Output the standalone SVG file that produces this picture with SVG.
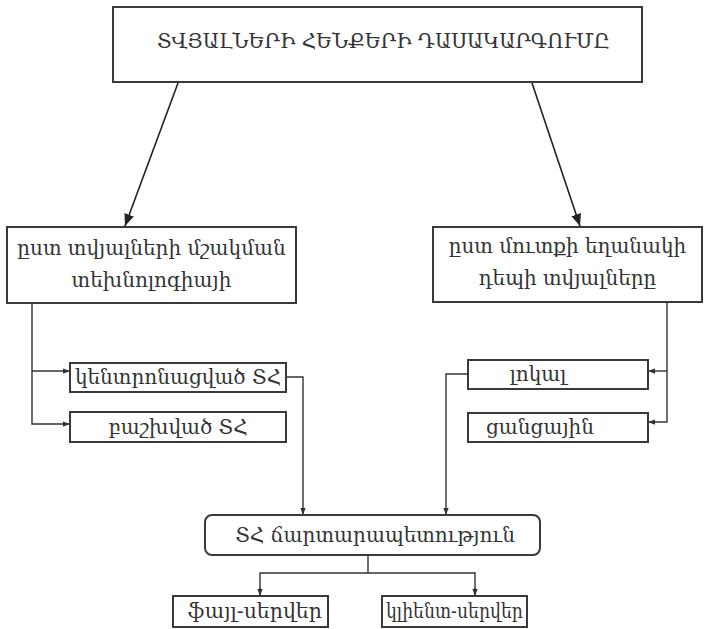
<svg xmlns="http://www.w3.org/2000/svg" width="705" height="629" viewBox="0 0 705 629">
<style>
.box{fill:#fff;stroke:#3a3a3a;stroke-width:2}
.t{font-family:"DejaVu Serif","Noto Sans",serif;fill:#333;text-anchor:middle}
.c{fill:none;stroke:#333;stroke-width:1.4}
.cb{fill:none;stroke:#222;stroke-width:1.6}
</style>
<defs>
<marker id="big" viewBox="0 0 12 12" refX="12" refY="6" markerWidth="12" markerHeight="12" markerUnits="userSpaceOnUse" orient="auto"><path d="M0,1 L12,6 L0,11 z" fill="#222"/></marker>
<marker id="sm" viewBox="0 0 8 8" refX="8" refY="4" markerWidth="7" markerHeight="7" markerUnits="userSpaceOnUse" orient="auto"><path d="M0,1 L8,4 L0,7 z" fill="#333"/></marker>
</defs>
<rect width="705" height="629" fill="#fff"/>
<g id="connectors">
<line class="cb" x1="178" y1="83" x2="125" y2="226" marker-end="url(#big)"/>
<line class="cb" x1="532" y1="83" x2="580" y2="226" marker-end="url(#big)"/>
<polyline class="c" points="32,303 32,424 70,424" marker-end="url(#sm)"/>
<line class="c" x1="32" y1="371" x2="70" y2="371" marker-end="url(#sm)"/>
<polyline class="c" points="667,302 667,422 648,422" marker-end="url(#sm)"/>
<line class="c" x1="667" y1="371" x2="648" y2="371" marker-end="url(#sm)"/>
<polyline class="c" points="286,377 303,377 303,515" marker-end="url(#sm)"/>
<polyline class="c" points="468,374 446,374 446,515" marker-end="url(#sm)"/>
<line class="c" x1="368" y1="555" x2="368" y2="573"/>
<polyline class="c" points="260,596 260,573 475,573 475,596"/>
<line class="c" x1="260" y1="588" x2="260" y2="596" marker-end="url(#sm)"/>
<line class="c" x1="475" y1="588" x2="475" y2="596" marker-end="url(#sm)"/>
</g>
<g id="title">
<rect class="box" x="113" y="7" width="529" height="75"/>
<text class="t" x="383.5" y="48" font-size="20.5" textLength="453" lengthAdjust="spacingAndGlyphs">ՏՎՅԱԼՆԵՐԻ ՀԵՆՔԵՐԻ ԴԱՍԱԿԱՐԳՈՒՄԸ</text>
</g>
<g id="processing">
<rect class="box" x="7" y="227" width="289" height="76"/>
<text class="t" x="151.5" y="255" font-size="20">ըստ տվյալների մշակման</text>
<text class="t" x="151.5" y="287" font-size="20">տեխնոլոգիայի</text>
</g>
<g id="access">
<rect class="box" x="433" y="227" width="269" height="75"/>
<text class="t" x="567.5" y="253" font-size="20">ըստ մուտքի եղանակի</text>
<text class="t" x="567.5" y="285" font-size="20">դեպի տվյալները</text>
</g>
<g id="centralized">
<rect class="box" x="70" y="363" width="216" height="29"/>
<text class="t" x="178" y="384" font-size="20">կենտրոնացված ՏՀ</text>
</g>
<g id="distributed">
<rect class="box" x="70" y="412" width="216" height="30"/>
<text class="t" x="178" y="434" font-size="20">բաշխված ՏՀ</text>
</g>
<g id="local">
<rect class="box" x="468" y="360" width="180" height="29"/>
<text class="t" x="538" y="381" font-size="20">լոկալ</text>
</g>
<g id="network">
<rect class="box" x="468" y="413" width="180" height="29"/>
<text class="t" x="540" y="434" font-size="20">ցանցային</text>
</g>
<g id="architecture">
<rect class="box" x="205" y="515" width="335" height="40" rx="7"/>
<text class="t" x="375" y="542" font-size="20">ՏՀ ճարտարապետություն</text>
</g>
<g id="fileserver">
<rect class="box" x="173" y="596" width="155" height="31"/>
<text class="t" x="255" y="618" font-size="20.5">ֆայլ-սերվեր</text>
</g>
<g id="clientserver">
<rect class="box" x="382" y="596" width="145" height="31"/>
<text class="t" x="454.5" y="618" font-size="20" textLength="137" lengthAdjust="spacingAndGlyphs">կլիենտ-սերվեր</text>
</g>
</svg>
